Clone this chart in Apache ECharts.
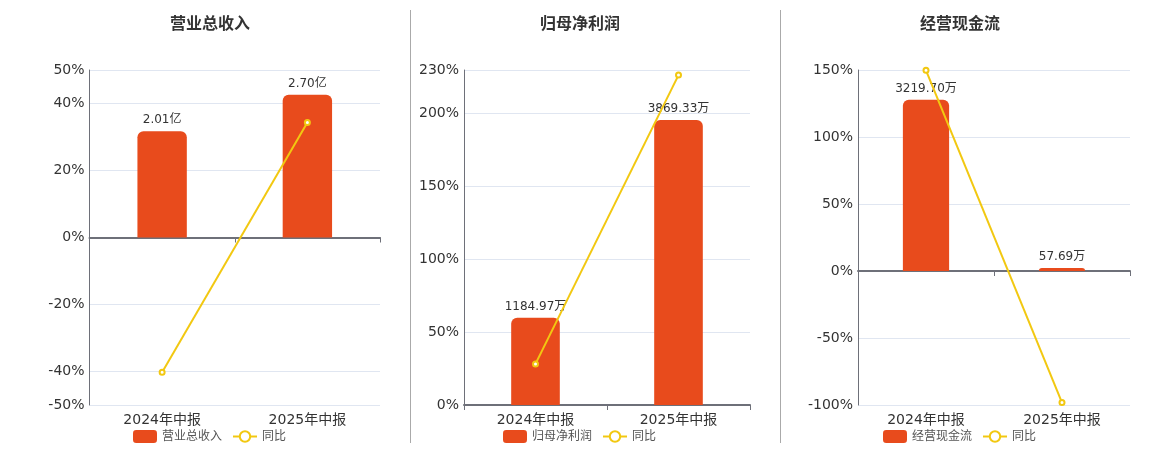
<!DOCTYPE html>
<html>
<head>
<meta charset="utf-8">
<script src="https://cdn.jsdelivr.net/npm/echarts@6/dist/echarts.min.js"></script>
<style>
html,body{margin:0;padding:0;background:#fff;}
#c{width:1160px;height:450px;}
</style>
</head>
<body>
<div id="c"></div>
<script>
// ---- data ----
const categories = ['2024年中报', '2025年中报'];
const titles = ['营业总收入', '归母净利润', '经营现金流'];
const revenue = [2.01, 2.70];          // 亿
const revenueYoY = [-40.2, 34.3];      // %
const profit = [1184.97, 3869.33];     // 万
const profitYoY = [28.2, 226.5];       // %
const cashflow = [3219.70, 57.69];     // 万
const cashflowYoY = [149.8, -98.2];    // %
const units = ['亿', '万', '万'];
const pctTickLabels1 = [-50, -40, -20, 0, 20, 40, 50];
const pctTickLabels2 = [0, 50, 100, 150, 200, 230];
const pctTickLabels3 = [-100, -50, 0, 50, 100, 150];
const barRanges = [[-3.17, 3.17], [0, 4550], [-2520, 3780]];

const pctTicks = [pctTickLabels1, pctTickLabels2, pctTickLabels3];
const barValues = [revenue, profit, cashflow];
const yoyValues = [revenueYoY, profitYoY, cashflowYoY];

const FONT = '"DejaVu Sans", "Noto Sans CJK SC", sans-serif';
const BAR_COLOR = '#E84B1C';
const LINE_COLOR = '#F2C811';

const grids = [
  {left: 89.5, right: 780, top: 70, bottom: 45},
  {left: 464, right: 410, top: 70, bottom: 45},
  {left: 858, right: 30, top: 70, bottom: 45}
];
const centers = [210, 580, 960];

const option = {
  animation: false,
  textStyle: {fontFamily: FONT},
  title: titles.map((t, i) => ({
    text: t, left: centers[i] - 5, top: 12, textAlign: 'center',
    textStyle: {fontSize: 16, fontWeight: 'bold', color: '#333', fontFamily: FONT}
  })),
  legend: titles.map((t, i) => ({
    data: [{name: t, icon: 'roundRect'}, {name: '同比'}],
    left: centers[i] - 82, top: 425,
    itemWidth: 24, itemHeight: 13, itemGap: 10,
    textStyle: {fontSize: 12, color: '#555', fontFamily: FONT},
    selectedMode: false
  })),
  grid: grids,
  graphic: [
    {type: 'line', shape: {x1: 410.5, y1: 10, x2: 410.5, y2: 443}, style: {stroke: '#aaa', lineWidth: 1}},
    {type: 'line', shape: {x1: 780.5, y1: 10, x2: 780.5, y2: 443}, style: {stroke: '#aaa', lineWidth: 1}}
  ],
  xAxis: [0, 1, 2].map(i => ({
    type: 'category', gridIndex: i, data: categories,
    axisLine: {onZero: true, onZeroAxisIndex: i * 2, lineStyle: {color: '#6E7079', width: 2}},
    axisTick: {show: true, length: 5, lineStyle: {color: '#6E7079'}},
    axisLabel: {fontSize: 14, color: '#333', fontFamily: FONT, margin: 8},
    splitLine: {show: false}
  })),
  yAxis: [],
  series: []
};

[0, 1, 2].forEach(i => {
  const t = pctTicks[i];
  option.yAxis.push({
    type: 'value', gridIndex: i,
    min: t[0], max: t[t.length - 1],
    axisLine: {show: true, lineStyle: {color: '#6E7079'}},
    axisTick: {show: false, customValues: t},
    axisLabel: {formatter: '{value}%', fontSize: 14, color: '#333', fontFamily: FONT,
      customValues: t, margin: 5, padding: [4, 0, 0, 0]},
    splitLine: {show: true, lineStyle: {color: '#E0E6F1'}}
  });
  option.yAxis.push({
    type: 'value', gridIndex: i,
    min: barRanges[i][0], max: barRanges[i][1],
    show: false, splitLine: {show: false}
  });
  option.series.push({
    name: titles[i], type: 'bar',
    xAxisIndex: i, yAxisIndex: i * 2 + 1,
    data: barValues[i], barWidth: '34%',
    itemStyle: {color: BAR_COLOR, borderRadius: [6, 6, 0, 0]},
    label: {
      show: true, position: 'top', distance: 5,
      fontSize: 12, color: '#333', fontFamily: FONT,
      formatter: p => p.value.toFixed(2) + units[i]
    },
    z: 2
  });
  option.series.push({
    name: '同比', type: 'line',
    xAxisIndex: i, yAxisIndex: i * 2,
    data: yoyValues[i],
    symbol: 'emptyCircle', symbolSize: 5,
    lineStyle: {color: LINE_COLOR, width: 2},
    itemStyle: {color: LINE_COLOR, borderWidth: 2},
    z: 3
  });
});

const chart = echarts.init(document.getElementById('c'));
chart.setOption(option);
</script>
</body>
</html>
